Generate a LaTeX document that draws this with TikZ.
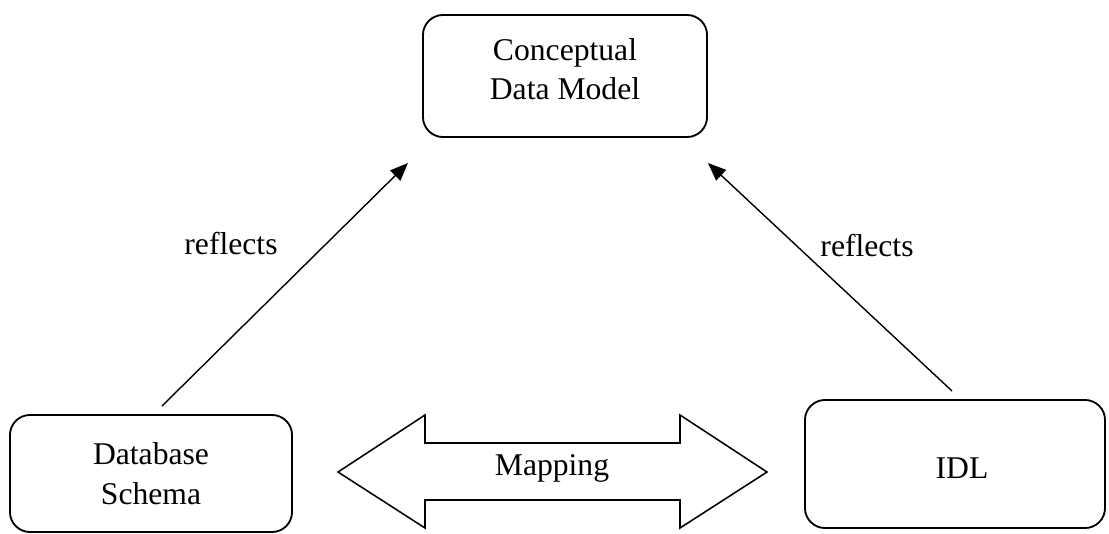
\documentclass[tikz,border=0pt]{standalone}
\usepackage{fontspec}
\setmainfont{Liberation Serif}
\usetikzlibrary{arrows.meta}

\begin{document}
\begin{tikzpicture}[
    x=0.025cm, y=-0.025cm,
    font=\fontsize{22.5}{28}\selectfont,
    box/.style={
      draw,
      line width=1.3pt,
      rounded corners=0.5cm
    },
    reflect/.style={line width=1pt,-{Triangle[length=0.45cm,width=0.36cm]}},
    mapshape/.style={line width=1.1pt, line join=miter}
  ]

  \path[use as bounding box] (0,0) rectangle (1109,533);

  % =====================================================
  % BOXES
  % =====================================================
  \node[box, minimum width=7.1cm, minimum height=3.05cm] (cdm) at (565,76) {};
  \node[align=center] (cdmtext) at (565,69) {Conceptual\\Data Model};

  \node[box, align=center, minimum width=7.05cm, minimum height=2.925cm]
  (db) at (151,473.5) {Database\\Schema};

  \node[box, minimum width=7.5cm, minimum height=3.2cm] (idl) at (955,464) {};
  \node (idltext) at (962,468) {IDL};

  % =====================================================
  % REFLECTS
  % =====================================================
  \coordinate (dbtop) at (162,406);
  \coordinate (cdmleft) at (408,163);
  \coordinate (idltop) at (952,391);
  \coordinate (cdmright) at (708,163);

  \draw[reflect] (dbtop) -- (cdmleft);
  \draw[reflect] (idltop) -- (cdmright);

  \node (refl) at (231,244) {reflects};
  \node (refr) at (867,246) {reflects};

  % =====================================================
  % MAPPING
  % =====================================================
  \draw[mapshape] (338,472) -- (425,415) -- (425,443) -- (680,443)
  -- (680,415) -- (767,472) -- (680,528) -- (680,500) -- (425,500)
  -- (425,528) -- cycle;
  \node (map) at (552,468) {Mapping};

\end{tikzpicture}
\end{document}
